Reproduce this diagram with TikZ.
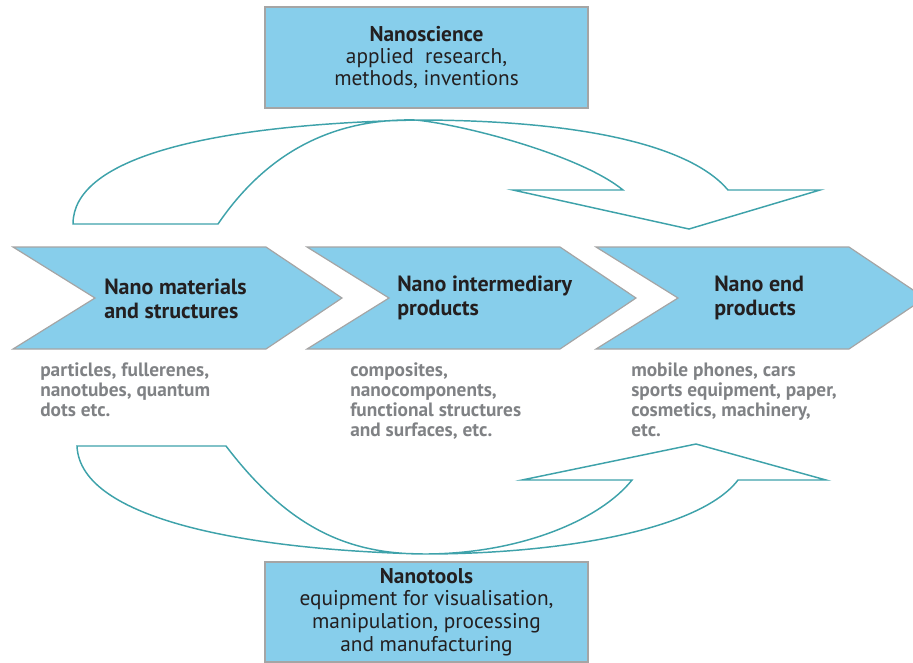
\documentclass[tikz,border=0pt]{standalone}
\usepackage{fontspec}
\setmainfont{PT Sans}
\usetikzlibrary{positioning}
\definecolor{skyfill}{RGB}{135,206,235}
\definecolor{edgegray}{RGB}{165,165,165}
\definecolor{flowteal}{RGB}{62,162,170}
\definecolor{ink}{RGB}{35,31,32}
\definecolor{notegray}{RGB}{128,130,133}

\begin{document}
\begin{tikzpicture}[x=0.75pt,y=-0.75pt,
  box/.style={draw=edgegray,fill=skyfill,line width=0.9pt},
  boxtext/.style={font=\fontsize{16}{16.5}\selectfont,text=ink,align=center},
  title/.style={font=\fontsize{16.5}{18}\selectfont\bfseries,text=ink,align=left,anchor=west,inner sep=0pt},
  note/.style={font=\fontsize{14.5}{15}\selectfont\bfseries,text=notegray,align=left,anchor=north west,inner sep=0pt},
  flow/.style={draw=flowteal,line width=1.1pt,line join=miter}]
\useasboundingbox (0,0) rectangle (913,662);
% Boxes above and below
\node[box,boxtext,minimum width=242.25pt,minimum height=75.75pt] (science) at (426.5,57.5)
  {\textbf{Nanoscience}\\applied\ \ research,\\methods, inventions};
\node[box,boxtext,minimum width=242.25pt,minimum height=75pt,font=\fontsize{16}{17}\selectfont] (tools) at (426.5,612)
  {\textbf{Nanotools}\\equipment for visualisation,\\manipulation, processing\\and manufacturing};
% The three chevrons, left edge at \l
\foreach \l/\n in {13/mat,307/inter,596/end}{
  \coordinate (\n) at (\l,247);
  \draw[box] (\n) -- ++(253,0) -- ++(76,51) -- ++(-76,51) -- ++(-253,0) -- ++(82,-51) -- cycle;
}
% Chevron titles
\node[title] (mattitle) at (104,299) {Nano materials\\and structures};
\node[title] (intertitle) at (397,298) {Nano intermediary\\products};
\node[title] (endtitle) at (714,298) {Nano end\\products};
% Examples under each chevron
\node[note] (matnote) at (40,362) {particles, fullerenes,\\nanotubes, quantum\\dots etc.};
\node[note] (internote) at (350,362) {composites,\\nanocomponents,\\functional structures\\and surfaces, etc.};
\node[note] (endnote) at (631,362) {mobile phones, cars\\sports equipment, paper,\\cosmetics, machinery,\\etc.};
% Upper arrow out of nanoscience
\coordinate (topapex) at (416,120);
\draw[flow] (73,224) -- (218,224)
  .. controls (265,155) and (330,118) .. (topapex)
  .. controls (465,125) and (580,155) .. (623,190)
  -- (513,190) -- (689,229) -- (820,190) -- (728,190)
  .. controls (690,145) and (580,120) .. (topapex)
  .. controls (200,125) and (73,160) .. cycle;
% Lower arrow out of nanotools
\coordinate (botapex) at (424,554);
\draw[flow] (77,446) -- (226,446)
  .. controls (290,530) and (350,554) .. (botapex)
  .. controls (520,554) and (600,520) .. (632,480)
  -- (522,480) -- (696,444) -- (826,480) -- (738,480)
  .. controls (700,530) and (560,554) .. (botapex)
  .. controls (250,550) and (80,520) .. cycle;
\end{tikzpicture}
\end{document}
